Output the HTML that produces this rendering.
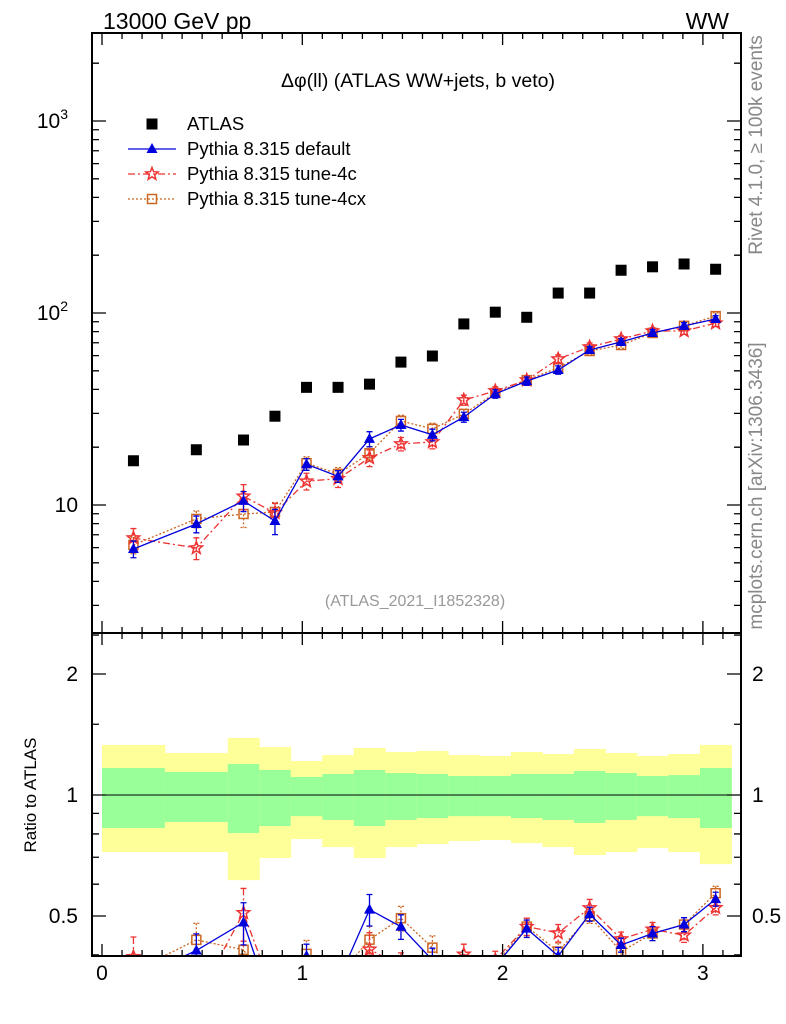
<!DOCTYPE html>
<html><head><meta charset="utf-8"><style>
body{margin:0;background:#fff;}
svg{display:block;font-family:"Liberation Sans",sans-serif;}
</style></head><body>
<svg id="c" width="786" height="1024" xmlns="http://www.w3.org/2000/svg">
<defs>
<clipPath id="cm"><rect x="92" y="33" width="649" height="600"/></clipPath>
<clipPath id="cr"><rect x="92" y="633" width="649" height="323"/></clipPath>
</defs>
<text x="103" y="29" font-size="23">13000 GeV pp</text>
<text x="729" y="29" font-size="23" text-anchor="end">WW</text>
<text x="418" y="87" font-size="19.5" text-anchor="middle">Δφ(ll) (ATLAS WW+jets, b veto)</text>
<text x="415" y="606" font-size="16" fill="#999" text-anchor="middle">(ATLAS_2021_I1852328)</text>
<text transform="translate(762,145) rotate(-90)" font-size="19" fill="#888" text-anchor="middle">Rivet 4.1.0, ≥ 100k events</text>
<text transform="translate(762,486) rotate(-90)" font-size="19" fill="#888" text-anchor="middle">mcplots.cern.ch [arXiv:1306.3436]</text>
<text transform="translate(36,795) rotate(-90)" font-size="17" text-anchor="middle">Ratio to ATLAS</text>
<g id="bands" clip-path="url(#cr)"></g>
<g id="main" clip-path="url(#cm)"></g>
<g id="ratio" clip-path="url(#cr)"></g>
<g id="axes"></g>
<g id="legend"></g>
</svg>
<script>
const edges=[0,0.314,0.628,0.785,0.942,1.100,1.257,1.414,1.571,1.728,1.885,2.042,2.199,2.356,2.513,2.670,2.827,2.985,3.142];
const atlas=[17,19.4,21.8,29,41,41,42.6,55.5,59.7,87.7,101,95,127,127,167,174,180,169];
const pyDefault=[5.9,7.96,10.5,8.25,16.3,14.1,22.1,26.1,23.2,28.7,37.9,44.2,50.5,64.2,70.7,78.7,85.7,93.1];
const pyTune4c=[6.73,5.97,11.1,9.1,13.3,13.7,17.6,20.8,21.3,35.2,39.3,44.7,57.6,66.5,73.2,80.6,80.6,88.6];
const pyTune4cx=[6.19,8.46,8.98,9.2,16.5,14.5,18.6,27.4,24.9,29.8,38.3,44.7,51.8,63.4,68.1,78.7,85.7,96.3];
const errDefault=[0.1,0.1,0.12,0.15,0.07,0.07,0.09,0.07,0.07,0.06,0.05,0.05,0.05,0.04,0.04,0.04,0.04,0.04];
const errTune4c=[0.12,0.13,0.15,0.12,0.1,0.1,0.1,0.08,0.08,0.06,0.05,0.05,0.05,0.05,0.04,0.04,0.04,0.04];
const errTune4cx=[0.1,0.1,0.15,0.12,0.08,0.08,0.08,0.07,0.07,0.06,0.05,0.05,0.05,0.04,0.04,0.04,0.04,0.04];
const totUp=[1.332,1.272,1.386,1.316,1.215,1.257,1.309,1.279,1.287,1.257,1.25,1.279,1.265,1.302,1.272,1.25,1.265,1.332];
const totDn=[0.721,0.721,0.614,0.697,0.777,0.742,0.697,0.742,0.755,0.768,0.773,0.759,0.742,0.709,0.721,0.738,0.721,0.673];
const statUp=[1.167,1.141,1.194,1.154,1.109,1.128,1.154,1.134,1.128,1.115,1.115,1.128,1.128,1.147,1.134,1.115,1.121,1.167];
const statDn=[0.828,0.857,0.804,0.837,0.886,0.867,0.837,0.867,0.876,0.886,0.886,0.876,0.867,0.852,0.867,0.886,0.876,0.828];
const xTicks=[0,1,2,3];
const NS="http://www.w3.org/2000/svg";
const X=v=>102+v*200.3;
const Y=v=>505-192*(Math.log10(v)-1);
const R=v=>795-121*Math.log2(v);
function el(tag,attrs,parent){const e=document.createElementNS(NS,tag);for(const k in attrs)e.setAttribute(k,attrs[k]);parent.appendChild(e);return e;}
const G=id=>document.getElementById(id);
const centers=edges.slice(0,-1).map((e,i)=>(e+edges[i+1])/2);
const bands=G('bands');
centers.forEach((c,i)=>{
 const x0=X(edges[i]),x1=X(edges[i+1]);
 let r=el('rect',{x:x0,y:R(totUp[i]),width:x1-x0+0.5,height:R(totDn[i])-R(totUp[i]),fill:'#ffff99'},bands);
 
 
 r=el('rect',{x:x0,y:R(statUp[i]),width:x1-x0+0.5,height:R(statDn[i])-R(statUp[i]),fill:'#99ff99'},bands);
 
 
});
let l1=el('line',{x1:92,x2:741,y1:R(1),y2:R(1),stroke:'#000','stroke-width':1},bands);


function marker(type,x,y,color,p){
 let m;
 if(type==='sq') m=el('rect',{x:x-5.5,y:y-5.5,width:11,height:11,fill:'#000'},p);
 else if(type==='tri') m=el('polygon',{points:`${x},${y-6} ${x-5.5},${y+4} ${x+5.5},${y+4}`,fill:color},p);
 else if(type==='osq') m=el('rect',{x:x-4.5,y:y-4.5,width:9,height:9,fill:'none',stroke:color,'stroke-width':1.5},p);
 else {let pts=[];for(let k=0;k<10;k++){const r=k%2?2.8:6.5,a=-Math.PI/2+k*Math.PI/5;pts.push((x+r*Math.cos(a)).toFixed(1)+','+(y+r*Math.sin(a)).toFixed(1));}
  m=el('polygon',{points:pts.join(' '),fill:'none',stroke:color,'stroke-width':1.5},p);}
 return m;
}
const series=[
 {name:'pythia-default',vals:pyDefault,err:errDefault,color:'#0000dd',dash:'',mk:'tri'},
 {name:'pythia-tune-4c',vals:pyTune4c,err:errTune4c,color:'#ee3333',dash:'7,3,2,3',mk:'star'},
 {name:'pythia-tune-4cx',vals:pyTune4cx,err:errTune4cx,color:'#cc6622',dash:'2,2',mk:'osq'}];
function drawSeries(g,s,Yf,vals){
 const pts=centers.map((c,i)=>X(c).toFixed(1)+','+Yf(vals[i]).toFixed(1)).join(' ');
 const pl=el('polyline',{points:pts,fill:'none',stroke:s.color,'stroke-width':1.3,'stroke-dasharray':s.dash},g);
 
 
 centers.forEach((c,i)=>{
  const v=vals[i],e=s.err[i];
  const eb=el('path',{d:`M${X(c)},${Yf(v*(1+e))}V${Yf(v*(1-e))}M${X(c)-3},${Yf(v*(1+e))}h6M${X(c)-3},${Yf(v*(1-e))}h6`,stroke:s.color,'stroke-width':1.3,'stroke-dasharray':s.dash,fill:'none'},g);
  
  
  const m=marker(s.mk,X(c),Yf(v),s.color,g);
  
  
 });
}
const main=G('main'),ratio=G('ratio');
series.slice().reverse().forEach(s=>{
 drawSeries(main,s,Y,s.vals);
 drawSeries(ratio,s,R,s.vals.map((v,i)=>v/atlas[i]));
});
centers.forEach((c,i)=>{
 const m=marker('sq',X(c),Y(atlas[i]),'#000',main);
 
 
});
const ax=G('axes');
let f=el('rect',{x:92,y:33,width:649,height:923,fill:'none',stroke:'#000','stroke-width':2},ax);


let f2=el('line',{x1:92,x2:741,y1:633,y2:633,stroke:'#000','stroke-width':2},ax);


let d='';
for(let t=0;t<=3.15;t+=0.1){const x=X(t),big=Math.abs(t-Math.round(t))<0.01,len=big?12:6;
 d+=`M${x},956v-${len}M${x},633v-${len}M${x},633v${len}M${x},33v${len}`;}
for(let dec=0;dec<=3;dec++)for(let k=1;k<10;k++){const v=k*Math.pow(10,dec),y=Y(v);if(y<33||y>633)continue;const len=k===1?14:7;
 d+=`M92,${y}h${len}M741,${y}h-${len}`;}
[0.4,0.5,0.6,0.7,0.8,0.9,1,1.5,2,2.5].forEach(v=>{const y=R(v);if(y<633||y>956)return;const len=(v===0.5||v===1||v===2)?14:7;d+=`M92,${y}h${len}M741,${y}h-${len}`;});
let tk=el('path',{d:d,stroke:'#000','stroke-width':1.3,fill:'none'},ax);


xTicks.forEach(t=>{const tx=el('text',{x:X(t),y:980,'font-size':21,'text-anchor':'middle'},ax);tx.textContent=t;
 
 });
[[3,'10','3'],[2,'10','2'],[1,'10','']].forEach(([p,b,e])=>{const tx=el('text',{x:e?68:78,y:Y(Math.pow(10,p))+7,'font-size':21,'text-anchor':'end'},ax);
 tx.textContent=b;if(e){const s=el('tspan',{dy:-9,'font-size':14},tx);s.textContent=e;}
 
 });
[[2,'2'],[1,'1'],[0.5,'0.5']].forEach(([v,s])=>{
 let tx=el('text',{x:78,y:R(v)+7,'font-size':21,'text-anchor':'end'},ax);tx.textContent=s;
 
 
 tx=el('text',{x:752,y:R(v)+7,'font-size':21},ax);tx.textContent=s;
 
 });
const lg=G('legend');
const entries=[{label:'ATLAS',mk:'sq',color:'#000',dash:null},...series.map(s=>({label:s.name==='pythia-default'?'Pythia 8.315 default':s.name==='pythia-tune-4c'?'Pythia 8.315 tune-4c':'Pythia 8.315 tune-4cx',mk:s.mk,color:s.color,dash:s.dash}))];
entries.forEach((e,i)=>{const y=124+i*25;
 const g=el('g',{},lg);
 
 
 if(e.dash!==null)el('line',{x1:128,x2:176,y1:y,y2:y,stroke:e.color,'stroke-width':1.3,'stroke-dasharray':e.dash},g);
 marker(e.mk,152,y,e.color,g);
 const t=el('text',{x:187,y:y+6,'font-size':18.5},g);t.textContent=e.label;
});
</script>
</body></html>
